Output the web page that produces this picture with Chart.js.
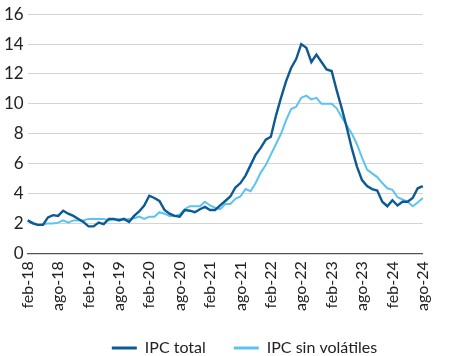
<!DOCTYPE html>
<html>
<head>
<meta charset="utf-8">
<script src="https://cdn.jsdelivr.net/npm/chart.js@4.4.1/dist/chart.umd.min.js"></script>
<style>
html,body{margin:0;padding:0;background:#fff;}
#wrap{width:450px;height:356px;}
</style>
</head>
<body>
<div id="wrap"><canvas id="c" width="450" height="356"></canvas></div>
<script>
const categories = [
 "feb-18","mar-18","abr-18","may-18","jun-18","jul-18","ago-18","sep-18","oct-18","nov-18","dic-18",
 "ene-19","feb-19","mar-19","abr-19","may-19","jun-19","jul-19","ago-19","sep-19","oct-19","nov-19","dic-19",
 "ene-20","feb-20","mar-20","abr-20","may-20","jun-20","jul-20","ago-20","sep-20","oct-20","nov-20","dic-20",
 "ene-21","feb-21","mar-21","abr-21","may-21","jun-21","jul-21","ago-21","sep-21","oct-21","nov-21","dic-21",
 "ene-22","feb-22","mar-22","abr-22","may-22","jun-22","jul-22","ago-22","sep-22","oct-22","nov-22","dic-22",
 "ene-23","feb-23","mar-23","abr-23","may-23","jun-23","jul-23","ago-23","sep-23","oct-23","nov-23","dic-23",
 "ene-24","feb-24","mar-24","abr-24","may-24","jun-24","jul-24","ago-24"
];
const ipcTotal = [
 2.2,2.0,1.9,1.9,2.4,2.55,2.5,2.85,2.65,2.5,2.3,
 2.1,1.8,1.8,2.05,1.95,2.3,2.3,2.2,2.3,2.1,2.5,2.8,
 3.2,3.85,3.7,3.5,2.9,2.65,2.5,2.45,2.9,2.85,2.75,2.95,
 3.1,2.9,2.9,3.2,3.5,3.8,4.4,4.7,5.2,5.9,6.6,7.05,
 7.6,7.8,9.2,10.4,11.5,12.4,13.0,14.0,13.75,12.8,13.3,12.8,
 12.3,12.2,10.9,9.7,8.4,7.0,5.8,4.9,4.5,4.3,4.2,3.45,
 3.15,3.55,3.2,3.45,3.45,3.7,4.35,4.5
];
const ipcSinVolatiles = [
 2.2,2.05,1.9,1.95,2.0,2.0,2.05,2.2,2.05,2.2,2.2,
 2.2,2.3,2.3,2.3,2.3,2.2,2.25,2.3,2.25,2.3,2.35,2.45,
 2.3,2.45,2.45,2.75,2.65,2.5,2.5,2.6,2.95,3.15,3.15,3.15,
 3.45,3.2,3.05,2.95,3.3,3.3,3.65,3.8,4.3,4.15,4.7,5.4,
 5.9,6.6,7.3,8.0,8.9,9.65,9.8,10.4,10.55,10.3,10.4,10.0,
 10.0,10.0,9.7,9.1,8.55,8.0,7.3,6.4,5.6,5.35,5.1,4.7,
 4.35,4.25,3.75,3.6,3.45,3.15,3.4,3.7
];
const yTicks = [0,2,4,6,8,10,12,14,16];
const labelEvery = 6;

const FONT = "Lato, 'Open Sans', sans-serif";
const TXT = "#222222";

const legendShift = {
  id: 'legendShift',
  afterLayout(chart) {
    const lg = chart.legend;
    if (!lg) return;
    lg.top -= 7; lg.bottom -= 7;
    lg.left += 23; lg.right += 23;
  }
};

new Chart(document.getElementById('c'), {
  type: 'line',
  plugins: [legendShift],
  data: {
    labels: categories,
    datasets: [
      { label: 'IPC total', data: ipcTotal, borderColor: '#0d5a92', backgroundColor: '#0d5a92',
        borderWidth: 2.4, pointRadius: 0, tension: 0, fill: false },
      { label: 'IPC sin volátiles', data: ipcSinVolatiles, borderColor: '#5cc3f0', backgroundColor: '#5cc3f0',
        borderWidth: 2, pointRadius: 0, tension: 0, fill: false }
    ]
  },
  options: {
    responsive: false,
    animation: false,
    devicePixelRatio: 1,
    layout: { padding: { top: 3, right: 7, left: 0, bottom: -17 } },
    plugins: {
      tooltip: { enabled: false },
      legend: {
        position: 'bottom',
        labels: {
          font: { family: FONT, size: 16 },
          color: TXT,
          boxWidth: 25,
          boxHeight: 3,
          padding: 28,
          generateLabels: function(chart) {
            const items = Chart.defaults.plugins.legend.labels.generateLabels(chart);
            items.forEach(it => { it.lineWidth = 0; it.fillStyle = it.strokeStyle; });
            return items;
          }
        }
      }
    },
    scales: {
      x: {
        type: 'category',
        offset: false,
        grid: { display: false, drawTicks: false },
        border: { display: true, color: '#555555', width: 1.2 },
        ticks: {
          autoSkip: false,
          maxRotation: 90,
          minRotation: 90,
          padding: 8,
          color: TXT,
          font: { family: FONT, size: 16 },
          callback: function(v, i) { return i % labelEvery === 0 ? categories[i] : null; }
        }
      },
      y: {
        min: yTicks[0],
        max: yTicks[yTicks.length - 1],
        grid: { color: '#d4d4d4', lineWidth: 1, drawTicks: false },
        border: { display: false },
        afterBuildTicks: function(s) { s.ticks = yTicks.map(v => ({ value: v })); },
        ticks: {
          padding: 4,
          color: TXT,
          font: { family: FONT, size: 17 }
        }
      }
    }
  }
});
</script>
</body>
</html>
